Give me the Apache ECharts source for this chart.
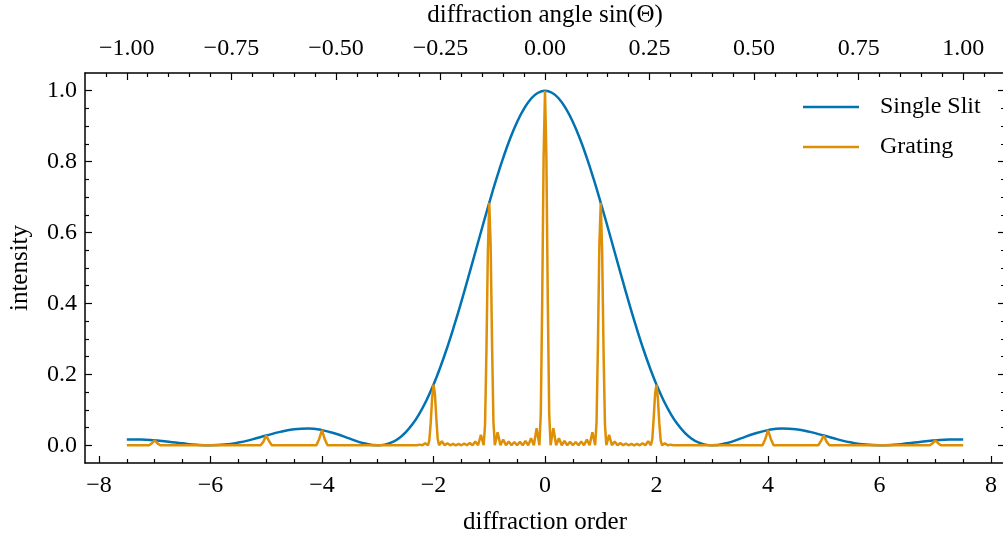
<!DOCTYPE html>
<html><head><meta charset="utf-8">
<script src="https://cdn.jsdelivr.net/npm/echarts@6/dist/echarts.min.js"></script>
<style>html,body{margin:0;padding:0;background:#fff}#c{width:1003px;height:538px}</style>
</head><body><div id="c"></div>
<script>
// ---- data ----
const slitX = [-7.5,-7.25,-7,-6.75,-6.5,-6.25,-6,-5.75,-5.5,-5.25,-5,-4.75,-4.5,-4.25,-4,-3.75,-3.5,-3.25,-3,
  -2.875,-2.75,-2.625,-2.5,-2.375,-2.25,-2.125,-2,-1.875,-1.75,-1.625,-1.5,-1.375,-1.25,-1.125,-1,-0.875,-0.75,-0.625,-0.5,-0.375,-0.25,-0.125,0,
  0.125,0.25,0.375,0.5,0.625,0.75,0.875,1,1.125,1.25,1.375,1.5,1.625,1.75,1.875,2,2.125,2.25,2.375,2.5,2.625,2.75,2.875,
  3,3.25,3.5,3.75,4,4.25,4.5,4.75,5,5.25,5.5,5.75,6,6.25,6.5,6.75,7,7.25,7.5];
const slitY = [0.01621,0.01619,0.01396,0.01001,0.00540,0.00156,0,0.00185,0.00754,0.01654,0.02736,0.03771,0.04503,0.04710,0.04275,0.03242,0.01861,0.00578,0,
  0.00188,0.00808,0.01938,0.03648,0.05991,0.09006,0.12710,0.17098,0.22140,0.27781,0.33945,0.40528,0.47410,0.54451,0.61498,0.68392,0.74965,0.81057,0.86512,0.91189,0.94965,0.97737,0.99430,1,
  0.99430,0.97737,0.94965,0.91189,0.86512,0.81057,0.74965,0.68392,0.61498,0.54451,0.47410,0.40528,0.33945,0.27781,0.22140,0.17098,0.12710,0.09006,0.05991,0.03648,0.01938,0.00808,0.00188,
  0,0.00578,0.01861,0.03242,0.04275,0.04710,0.04503,0.03771,0.02736,0.01654,0.00754,0.00185,0,0.00156,0.00540,0.01001,0.01396,0.01619,0.01621];

const gratingX = [-7.5,-7.1,-7.05,-7,-6.95,-6.9,-5.1,-5.05,-5,-4.95,-4.9,-4.1,-4.05,-4,-3.95,-3.9,
  -2.3,-2.25,-2.2,-2.15,-2.1,-2.075,-2.05,-2.025,-2,-1.975,-1.95,-1.925,-1.9,-1.85,-1.8,-1.75,-1.7,-1.65,-1.6,-1.55,-1.5,-1.45,-1.4,-1.35,-1.3,-1.25,-1.2,-1.15,-1.1,
  -1.075,-1.05,-1.025,-1,-0.975,-0.95,-0.925,-0.9,-0.85,-0.8,-0.75,-0.7,-0.65,-0.6,-0.55,-0.5,-0.45,-0.4,-0.35,-0.3,-0.25,-0.2,-0.15,-0.1,-0.075,-0.05,-0.025,0,
  0.025,0.05,0.075,0.1,0.15,0.2,0.25,0.3,0.35,0.4,0.45,0.5,0.55,0.6,0.65,0.7,0.75,0.8,0.85,0.9,0.925,0.95,0.975,1,1.025,1.05,1.075,
  1.1,1.15,1.2,1.25,1.3,1.35,1.4,1.45,1.5,1.55,1.6,1.65,1.7,1.75,1.8,1.85,1.9,1.925,1.95,1.975,2,2.025,2.05,2.075,2.1,2.15,2.2,2.25,2.3,
  3.9,3.95,4,4.05,4.1,4.9,4.95,5,5.05,5.1,6.9,6.95,7,7.05,7.1,7.5];
const gratingY = [0,0,0.00595,0.01396,0.00543,0,0,0.01028,0.02736,0.01208,0,0,0.01804,0.04275,0.01680,0,
  0,0.0018,0,0.00578,0,0.01320,0.06238,0.13131,0.17098,0.14664,0.07781,0.01839,0,0.01126,0,0.00556,0,0.00412,0,0.00388,0,0.00443,0,0.00615,0,0.01089,0,0.02915,0,
  0.05898,0.26837,0.54445,0.68392,0.56640,0.29046,0.06641,0,0.03697,0,0.01621,0,0.01077,0,0.00917,0,0.00951,0,0.01205,0,0.01955,0,0.0481,0,0.09156,0.4083,0.8120,1,
  0.8120,0.4083,0.09156,0,0.0481,0,0.01955,0,0.01205,0,0.00951,0,0.00917,0,0.01077,0,0.01621,0,0.03697,0,0.06641,0.29046,0.56640,0.68392,0.54445,0.26837,0.05898,
  0,0.02915,0,0.01089,0,0.00615,0,0.00443,0,0.00388,0,0.00412,0,0.00556,0,0.01126,0,0.01839,0.07781,0.14664,0.17098,0.13131,0.06238,0.01320,0,0.00578,0,0.0018,0,
  0,0.01680,0.04275,0.01804,0,0,0.01208,0.02736,0.01028,0,0,0.00543,0.01396,0.00595,0,0];

const orderTicks = [-8,-6,-4,-2,0,2,4,6,8];
const angleTicks = [-1,-0.75,-0.5,-0.25,0,0.25,0.5,0.75,1];
const intensityTicks = [0,0.2,0.4,0.6,0.8,1.0];
const seriesNames = ['Single Slit','Grating'];

// ---- minor tick positions ----
function steps(a,b,s,skip){const r=[];for(let i=Math.round(a/s);i<=Math.round(b/s);i++){const v=+(i*s).toFixed(4);if(!skip.some(m=>Math.abs(m-v)<1e-9))r.push(v);}return r;}
const orderMinor = steps(-8,8,0.5,orderTicks);
const angleMinor = steps(-1.05,1.05,0.05,angleTicks);
const intensityMinor = steps(0.05,0.95,0.05,intensityTicks);

const FONT = 'Liberation Serif';
const TICKFS = 24, TITLEFS = 25;
const minus = v => (v<0?'\u2212':'');
const axisCol = '#000';
function ax(pos,min,max,ticks,len,labels,fmt,extra,margin){
  return Object.assign({type:'value',position:pos,min:min,max:max,
    axisLine:{show:true,onZero:false,lineStyle:{color:axisCol,width:1.5}},
    splitLine:{show:false},
    axisTick:{show:true,inside:true,length:len,customValues:ticks,lineStyle:{color:axisCol,width:1.2}},
    axisLabel:{show:labels,customValues:ticks,formatter:fmt,color:'#000',fontFamily:FONT,fontSize:TICKFS,margin:margin||11}
  },extra||{});
}
const noLine = {axisLine:{show:false,onZero:false}};
const L = 7, S = 4;
const fmtOrder = v => minus(v)+Math.abs(v);
const fmtAngle = v => minus(v)+Math.abs(v).toFixed(2);
const fmtInt = v => v.toFixed(1);
const nameStyle = {fontFamily:FONT,fontSize:TITLEFS,color:'#000'};

const blue = '#0173b2', orange = '#de8f05';
const chart = echarts.init(document.getElementById('c'),null,{renderer:'canvas'});
chart.setOption({
  animation:false,
  backgroundColor:'#fff',
  textStyle:{fontFamily:FONT},
  grid:{left:85,right:-2,top:73,bottom:75,containLabel:false,outerBoundsMode:'none'},
  legend:{orient:'vertical',left:803,top:95,padding:0,icon:'rect',itemWidth:56,itemHeight:2.5,itemGap:16,
    textStyle:{fontFamily:FONT,fontSize:TICKFS,lineHeight:24,color:'#000',padding:[0,0,0,16]},
    data:seriesNames},
  xAxis:[
    ax('bottom',-8.25,8.25,orderTicks,L,true,fmtOrder,{name:'diffraction order',nameLocation:'middle',nameGap:47,nameTextStyle:nameStyle}),
    ax('bottom',-8.25,8.25,orderMinor,S,false,fmtOrder,noLine),
    ax('top',-1.1,1.1,angleTicks,L,true,fmtAngle,{name:'diffraction angle sin(\u0398)',nameLocation:'middle',nameGap:45,nameTextStyle:nameStyle},12),
    ax('top',-1.1,1.1,angleMinor,S,false,fmtAngle,noLine)
  ],
  yAxis:[
    ax('left',-0.05,1.05,intensityTicks,L,true,fmtInt,{name:'intensity',nameLocation:'middle',nameGap:52,nameTextStyle:nameStyle},8),
    ax('left',-0.05,1.05,intensityMinor,S,false,fmtInt,noLine),
    ax('right',-0.05,1.05,intensityTicks,L,false,fmtInt),
    ax('right',-0.05,1.05,intensityMinor,S,false,fmtInt,noLine)
  ],
  series:[
    {name:seriesNames[0],type:'line',xAxisIndex:0,yAxisIndex:0,symbol:'none',smooth:true,
      lineStyle:{color:blue,width:2.5},itemStyle:{color:blue},
      data:slitX.map((x,i)=>[x,slitY[i]])},
    {name:seriesNames[1],type:'line',xAxisIndex:0,yAxisIndex:0,symbol:'none',
      lineStyle:{color:orange,width:2.5},itemStyle:{color:orange},
      data:gratingX.map((x,i)=>[x,gratingY[i]])}
  ]
});
</script></body></html>
